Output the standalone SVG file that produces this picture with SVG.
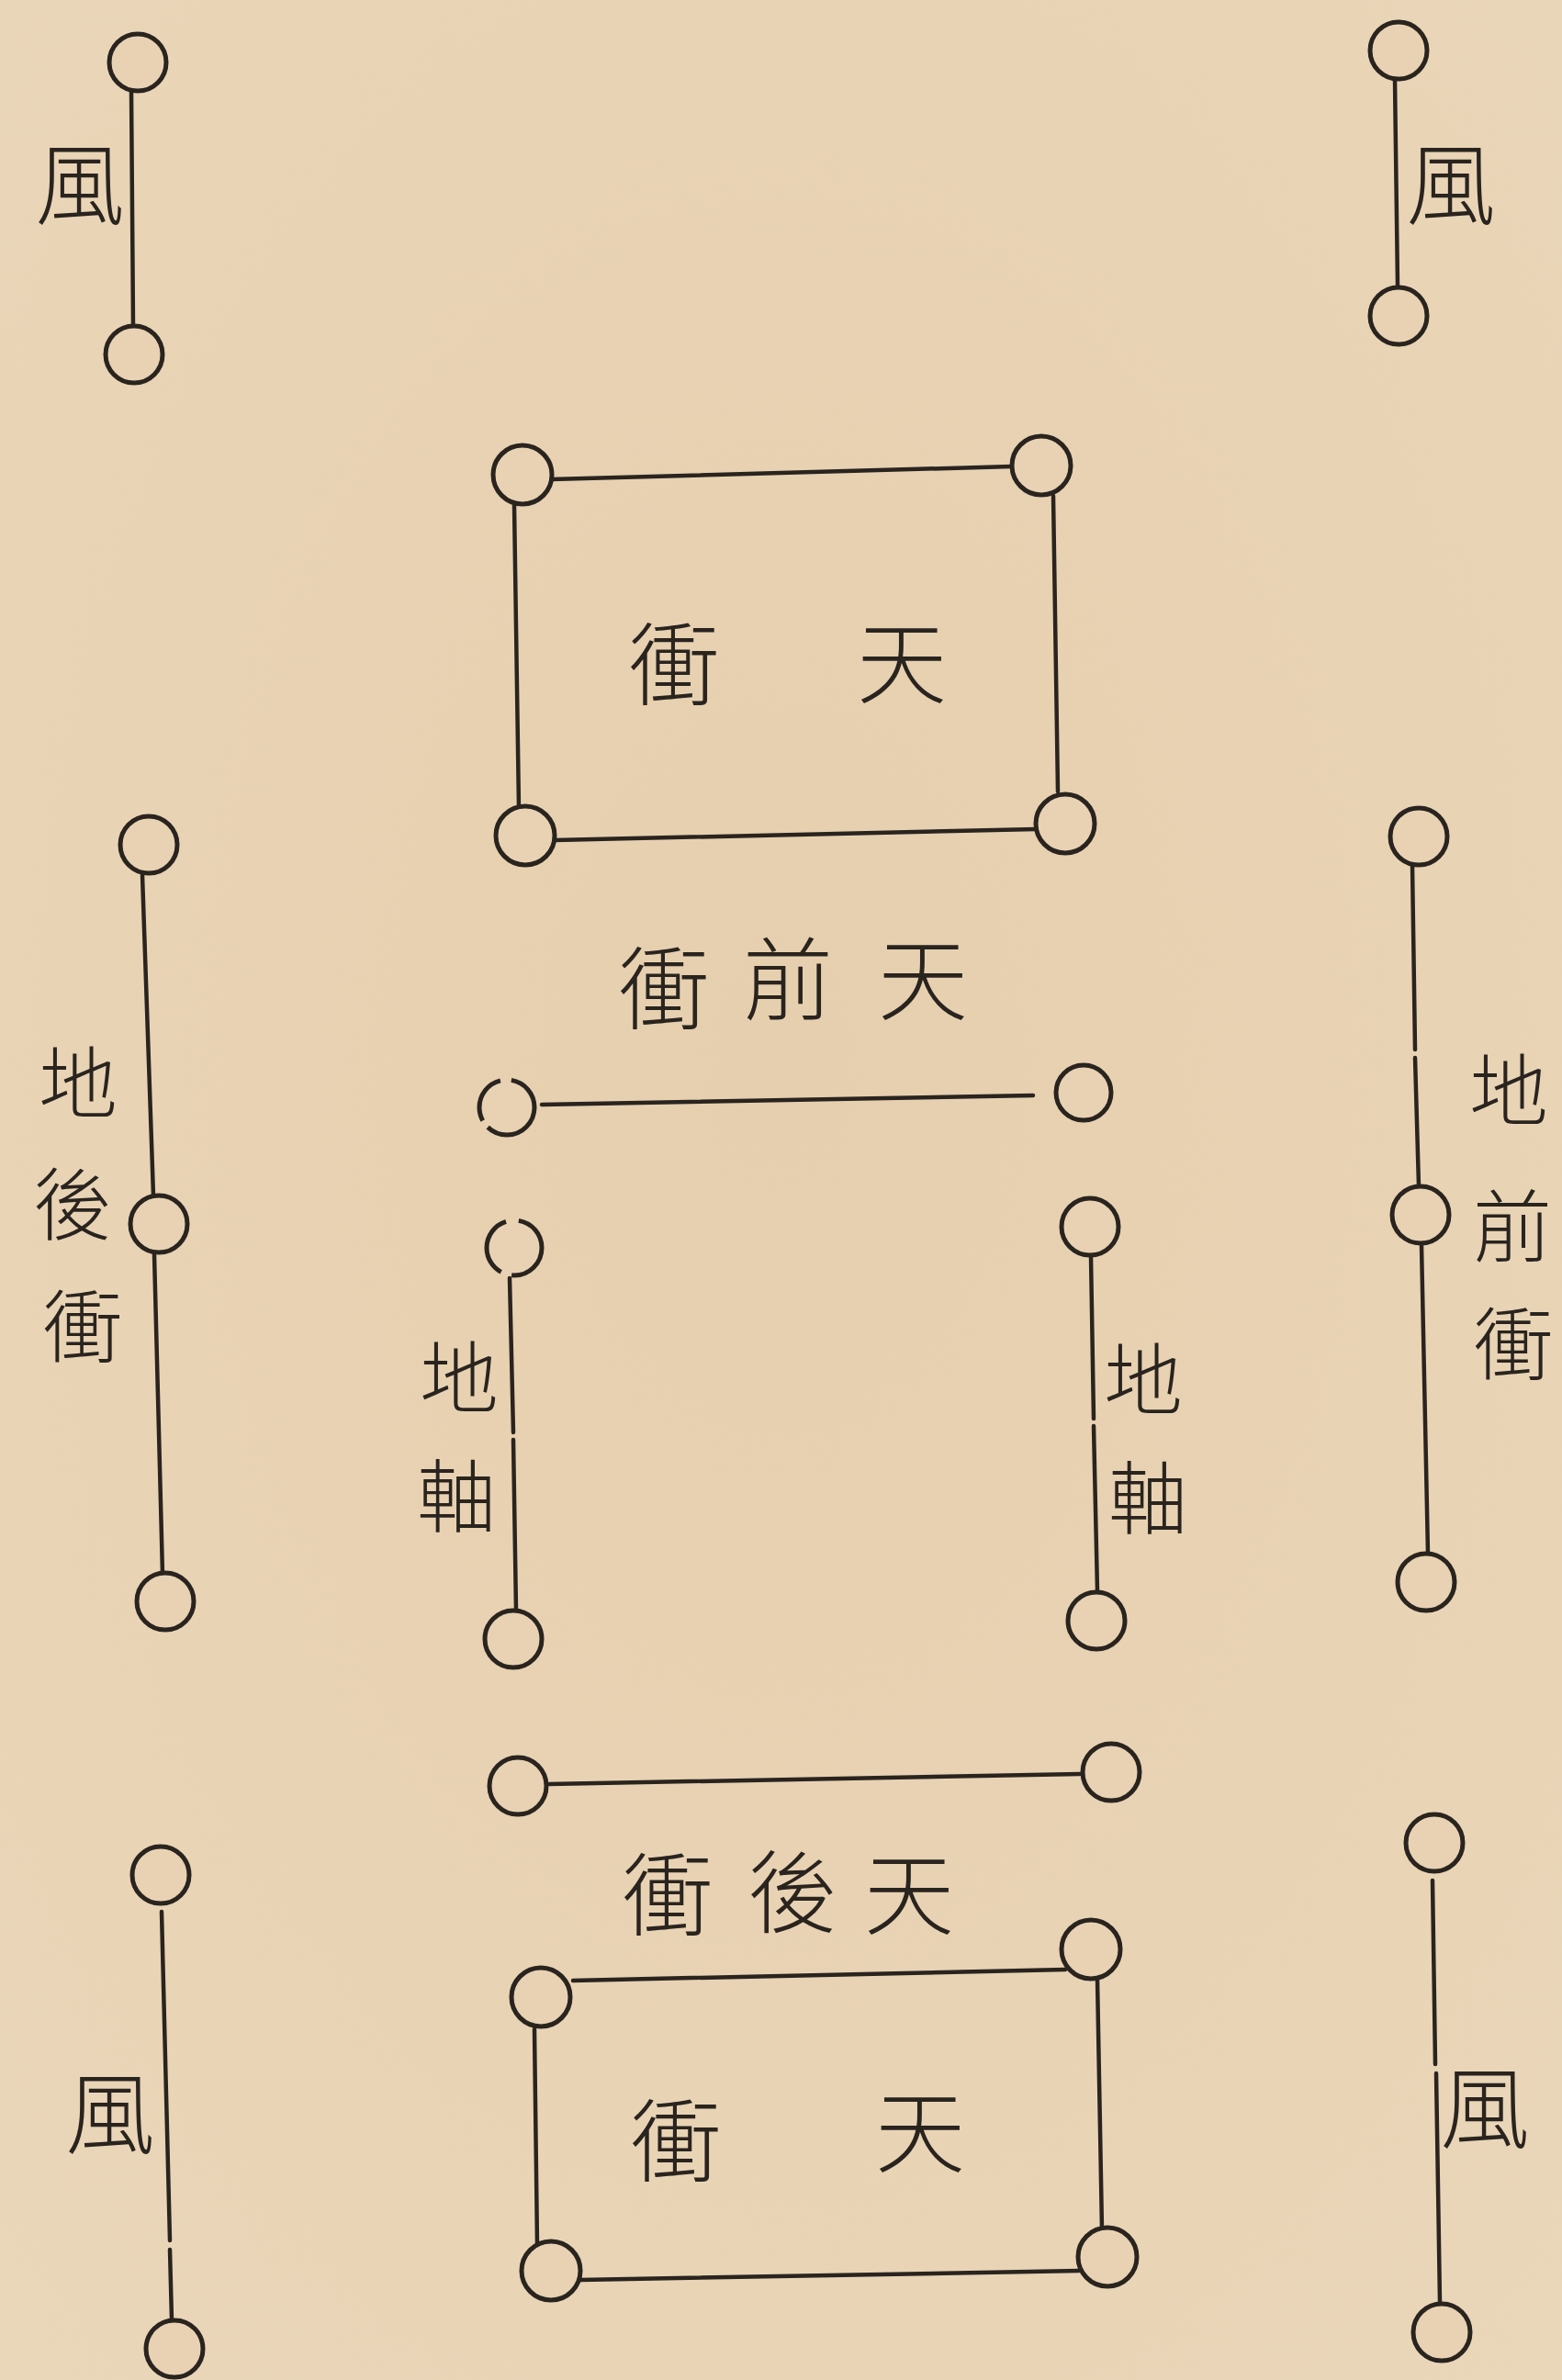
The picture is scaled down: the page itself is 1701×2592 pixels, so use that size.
<svg xmlns="http://www.w3.org/2000/svg" width="1701" height="2592" viewBox="0 0 1701 2592">
<defs>
<style>
.ln{stroke:#2a241f;stroke-width:4.5;fill:none;stroke-linecap:round}
.nd{stroke:#2a241f;stroke-width:5;fill:#e8d2b3}
.tx{font-family:"Noto Sans CJK TC","Noto Sans CJK SC",sans-serif;font-size:98px;font-weight:300;fill:#2a241f;text-anchor:middle;dominant-baseline:central}
.sm{font-size:86px}
.sd{font-size:86px}
</style>
<radialGradient id="bg" cx="50%" cy="45%" r="75%">
<stop offset="0" stop-color="#e6cfae"/>
<stop offset="1" stop-color="#ead6b9"/>
</radialGradient>
</defs>
<rect width="1701" height="2592" fill="url(#bg)"/>
<g id="connectors">
<line class="ln" x1="143" y1="100" x2="145" y2="355"/>
<line class="ln" x1="1519" y1="87" x2="1522" y2="313"/>
<line class="ln" x1="600" y1="522" x2="1102" y2="508"/>
<line class="ln" x1="560" y1="550" x2="565" y2="880"/>
<line class="ln" x1="604" y1="915" x2="1128" y2="903"/>
<line class="ln" x1="1147" y1="540" x2="1152" y2="862"/>
<line class="ln" x1="590" y1="1203" x2="1125" y2="1193"/>
<line class="ln" x1="155" y1="953" x2="167" y2="1302"/>
<line class="ln" x1="168" y1="1366" x2="177" y2="1714"/>
<line class="ln" x1="1538" y1="942" x2="1541" y2="1143"/>
<line class="ln" x1="1541" y1="1152" x2="1545" y2="1292"/>
<line class="ln" x1="1548" y1="1356" x2="1555" y2="1692"/>
<line class="ln" x1="555" y1="1392" x2="559" y2="1560"/>
<line class="ln" x1="559" y1="1568" x2="562" y2="1754"/>
<line class="ln" x1="1188" y1="1368" x2="1191" y2="1545"/>
<line class="ln" x1="1191" y1="1553" x2="1195" y2="1733"/>
<line class="ln" x1="598" y1="1943" x2="1176" y2="1932"/>
<line class="ln" x1="624" y1="2157" x2="1160" y2="2145"/>
<line class="ln" x1="582" y1="2210" x2="585" y2="2445"/>
<line class="ln" x1="1195" y1="2155" x2="1200" y2="2428"/>
<line class="ln" x1="632" y1="2483" x2="1175" y2="2473"/>
<line class="ln" x1="176" y1="2082" x2="185" y2="2440"/>
<line class="ln" x1="185" y1="2450" x2="187" y2="2527"/>
<line class="ln" x1="1560" y1="2048" x2="1563" y2="2248"/>
<line class="ln" x1="1564" y1="2258" x2="1568" y2="2507"/>
</g>
<g id="feng-tl"><circle class="nd" cx="150" cy="68" r="31"/><circle class="nd" cx="146" cy="386" r="31"/><text class="tx" x="87" y="194">風</text></g>
<g id="feng-tr"><circle class="nd" cx="1523" cy="55" r="31"/><circle class="nd" cx="1523" cy="344" r="31"/><text class="tx" x="1580" y="194">風</text></g>
<g id="tianheng-top"><circle class="nd" cx="569" cy="517" r="32"/><circle class="nd" cx="1134" cy="507" r="32"/><circle class="nd" cx="572" cy="910" r="32"/><circle class="nd" cx="1160" cy="897" r="32"/><text class="tx" x="734" y="717">衝</text><text class="tx" x="982" y="715">天</text></g>
<g id="tianqianheng"><circle class="nd" cx="552" cy="1206" r="30" stroke-dasharray="70 9 55 12 60 0"/><circle class="nd" cx="1180" cy="1190" r="30"/><text class="tx" x="723" y="1070">衝</text><text class="tx" x="858" y="1060">前</text><text class="tx" x="1005" y="1060">天</text></g>
<g id="dihouheng"><circle class="nd" cx="162" cy="920" r="31"/><circle class="nd" cx="173" cy="1333" r="31"/><circle class="nd" cx="180" cy="1744" r="31"/><text class="tx sd" x="85" y="1174">地</text><text class="tx sd" x="79" y="1306">後</text><text class="tx sd" x="90" y="1439">衝</text></g>
<g id="diqianheng"><circle class="nd" cx="1545" cy="911" r="31"/><circle class="nd" cx="1547" cy="1323" r="31"/><circle class="nd" cx="1553" cy="1723" r="31"/><text class="tx sd" x="1643" y="1182">地</text><text class="tx sd" x="1647" y="1330">前</text><text class="tx sd" x="1648" y="1458">衝</text></g>
<g id="dizhou-l"><circle class="nd" cx="560" cy="1359" r="30" stroke-dasharray="50 12 70 14 42 0"/><circle class="nd" cx="559" cy="1785" r="31"/><text class="tx sm" x="500" y="1495">地</text><text class="tx sm" x="497" y="1624">軸</text></g>
<g id="dizhou-r"><circle class="nd" cx="1187" cy="1336" r="31"/><circle class="nd" cx="1194" cy="1765" r="31"/><text class="tx sm" x="1245" y="1497">地</text><text class="tx sm" x="1250" y="1626">軸</text></g>
<g id="tianhouheng"><circle class="nd" cx="564" cy="1945" r="31"/><circle class="nd" cx="1210" cy="1930" r="31"/><text class="tx" x="727" y="2057">衝</text><text class="tx" x="863" y="2054">後</text><text class="tx" x="990" y="2056">天</text></g>
<g id="tianheng-bottom"><circle class="nd" cx="589" cy="2175" r="32"/><circle class="nd" cx="1188" cy="2123" r="32"/><circle class="nd" cx="600" cy="2473" r="32"/><circle class="nd" cx="1206" cy="2458" r="32"/><text class="tx" x="736" y="2325">衝</text><text class="tx" x="1002" y="2315">天</text></g>
<g id="feng-bl"><circle class="nd" cx="175" cy="2042" r="31"/><circle class="nd" cx="190" cy="2558" r="31"/><text class="tx" x="120" y="2295">風</text></g>
<g id="feng-br"><circle class="nd" cx="1562" cy="2007" r="31"/><circle class="nd" cx="1570" cy="2540" r="31"/><text class="tx" x="1617" y="2289">風</text></g>
</svg>
